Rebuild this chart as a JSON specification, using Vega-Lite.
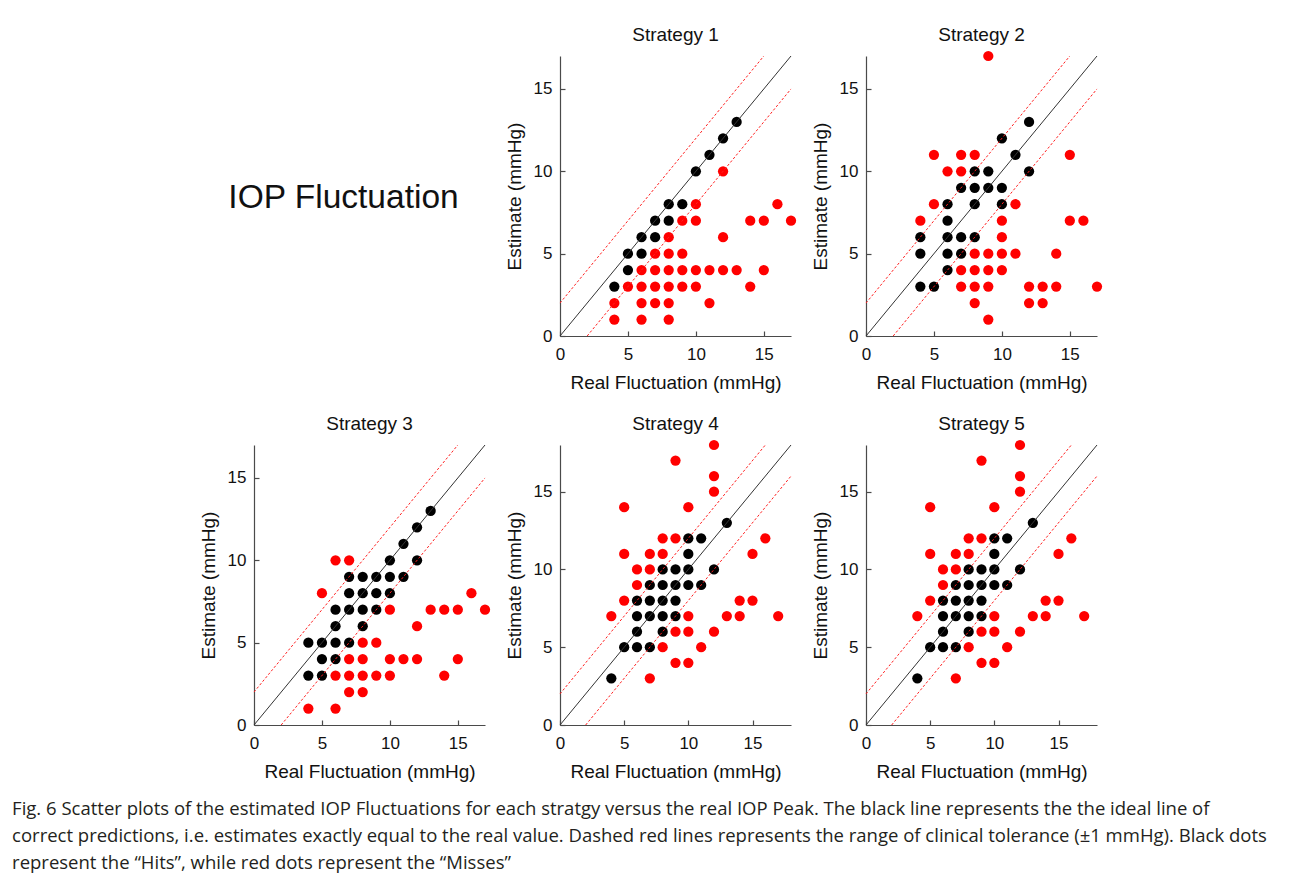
{
  "$schema": "https://vega.github.io/schema/vega-lite/v6.json",
  "background": "white",
  "padding": {"left": 12, "top": 25, "right": 5, "bottom": 5},
  "autosize": {"type": "pad"},
  "datasets": {
    "pts": [
      {"s":1,"real":4,"est":3,"result":"Hit"},{"s":1,"real":5,"est":4,"result":"Hit"},{"s":1,"real":5,"est":5,"result":"Hit"},{"s":1,"real":6,"est":5,"result":"Hit"},{"s":1,"real":6,"est":6,"result":"Hit"},{"s":1,"real":7,"est":6,"result":"Hit"},{"s":1,"real":7,"est":7,"result":"Hit"},{"s":1,"real":8,"est":7,"result":"Hit"},{"s":1,"real":8,"est":8,"result":"Hit"},{"s":1,"real":9,"est":8,"result":"Hit"},{"s":1,"real":10,"est":10,"result":"Hit"},{"s":1,"real":11,"est":11,"result":"Hit"},{"s":1,"real":12,"est":12,"result":"Hit"},{"s":1,"real":13,"est":13,"result":"Hit"},
      {"s":1,"real":12,"est":10,"result":"Miss"},{"s":1,"real":10,"est":8,"result":"Miss"},{"s":1,"real":16,"est":8,"result":"Miss"},{"s":1,"real":9,"est":7,"result":"Miss"},{"s":1,"real":10,"est":7,"result":"Miss"},{"s":1,"real":14,"est":7,"result":"Miss"},{"s":1,"real":15,"est":7,"result":"Miss"},{"s":1,"real":17,"est":7,"result":"Miss"},{"s":1,"real":8,"est":6,"result":"Miss"},{"s":1,"real":12,"est":6,"result":"Miss"},{"s":1,"real":7,"est":5,"result":"Miss"},{"s":1,"real":8,"est":5,"result":"Miss"},{"s":1,"real":9,"est":5,"result":"Miss"},{"s":1,"real":6,"est":4,"result":"Miss"},{"s":1,"real":7,"est":4,"result":"Miss"},{"s":1,"real":8,"est":4,"result":"Miss"},{"s":1,"real":9,"est":4,"result":"Miss"},{"s":1,"real":10,"est":4,"result":"Miss"},{"s":1,"real":11,"est":4,"result":"Miss"},{"s":1,"real":12,"est":4,"result":"Miss"},{"s":1,"real":13,"est":4,"result":"Miss"},{"s":1,"real":15,"est":4,"result":"Miss"},{"s":1,"real":5,"est":3,"result":"Miss"},{"s":1,"real":6,"est":3,"result":"Miss"},{"s":1,"real":7,"est":3,"result":"Miss"},{"s":1,"real":8,"est":3,"result":"Miss"},{"s":1,"real":9,"est":3,"result":"Miss"},{"s":1,"real":10,"est":3,"result":"Miss"},{"s":1,"real":14,"est":3,"result":"Miss"},{"s":1,"real":4,"est":2,"result":"Miss"},{"s":1,"real":6,"est":2,"result":"Miss"},{"s":1,"real":7,"est":2,"result":"Miss"},{"s":1,"real":8,"est":2,"result":"Miss"},{"s":1,"real":11,"est":2,"result":"Miss"},{"s":1,"real":4,"est":1,"result":"Miss"},{"s":1,"real":6,"est":1,"result":"Miss"},{"s":1,"real":8,"est":1,"result":"Miss"},

      {"s":2,"real":12,"est":13,"result":"Hit"},{"s":2,"real":10,"est":12,"result":"Hit"},{"s":2,"real":11,"est":11,"result":"Hit"},{"s":2,"real":8,"est":10,"result":"Hit"},{"s":2,"real":9,"est":10,"result":"Hit"},{"s":2,"real":12,"est":10,"result":"Hit"},{"s":2,"real":7,"est":9,"result":"Hit"},{"s":2,"real":8,"est":9,"result":"Hit"},{"s":2,"real":9,"est":9,"result":"Hit"},{"s":2,"real":10,"est":9,"result":"Hit"},{"s":2,"real":6,"est":8,"result":"Hit"},{"s":2,"real":8,"est":8,"result":"Hit"},{"s":2,"real":10,"est":8,"result":"Hit"},{"s":2,"real":6,"est":7,"result":"Hit"},{"s":2,"real":4,"est":6,"result":"Hit"},{"s":2,"real":6,"est":6,"result":"Hit"},{"s":2,"real":7,"est":6,"result":"Hit"},{"s":2,"real":8,"est":6,"result":"Hit"},{"s":2,"real":4,"est":5,"result":"Hit"},{"s":2,"real":6,"est":5,"result":"Hit"},{"s":2,"real":7,"est":5,"result":"Hit"},{"s":2,"real":6,"est":4,"result":"Hit"},{"s":2,"real":4,"est":3,"result":"Hit"},{"s":2,"real":5,"est":3,"result":"Hit"},
      {"s":2,"real":9,"est":17,"result":"Miss"},{"s":2,"real":5,"est":11,"result":"Miss"},{"s":2,"real":7,"est":11,"result":"Miss"},{"s":2,"real":8,"est":11,"result":"Miss"},{"s":2,"real":15,"est":11,"result":"Miss"},{"s":2,"real":6,"est":10,"result":"Miss"},{"s":2,"real":7,"est":10,"result":"Miss"},{"s":2,"real":5,"est":8,"result":"Miss"},{"s":2,"real":11,"est":8,"result":"Miss"},{"s":2,"real":4,"est":7,"result":"Miss"},{"s":2,"real":10,"est":7,"result":"Miss"},{"s":2,"real":15,"est":7,"result":"Miss"},{"s":2,"real":16,"est":7,"result":"Miss"},{"s":2,"real":10,"est":6,"result":"Miss"},{"s":2,"real":8,"est":5,"result":"Miss"},{"s":2,"real":9,"est":5,"result":"Miss"},{"s":2,"real":10,"est":5,"result":"Miss"},{"s":2,"real":11,"est":5,"result":"Miss"},{"s":2,"real":14,"est":5,"result":"Miss"},{"s":2,"real":7,"est":4,"result":"Miss"},{"s":2,"real":8,"est":4,"result":"Miss"},{"s":2,"real":9,"est":4,"result":"Miss"},{"s":2,"real":10,"est":4,"result":"Miss"},{"s":2,"real":7,"est":3,"result":"Miss"},{"s":2,"real":8,"est":3,"result":"Miss"},{"s":2,"real":9,"est":3,"result":"Miss"},{"s":2,"real":12,"est":3,"result":"Miss"},{"s":2,"real":13,"est":3,"result":"Miss"},{"s":2,"real":14,"est":3,"result":"Miss"},{"s":2,"real":17,"est":3,"result":"Miss"},{"s":2,"real":8,"est":2,"result":"Miss"},{"s":2,"real":12,"est":2,"result":"Miss"},{"s":2,"real":13,"est":2,"result":"Miss"},{"s":2,"real":9,"est":1,"result":"Miss"},

      {"s":3,"real":13,"est":13,"result":"Hit"},{"s":3,"real":12,"est":12,"result":"Hit"},{"s":3,"real":11,"est":11,"result":"Hit"},{"s":3,"real":10,"est":10,"result":"Hit"},{"s":3,"real":12,"est":10,"result":"Hit"},{"s":3,"real":7,"est":9,"result":"Hit"},{"s":3,"real":8,"est":9,"result":"Hit"},{"s":3,"real":9,"est":9,"result":"Hit"},{"s":3,"real":10,"est":9,"result":"Hit"},{"s":3,"real":11,"est":9,"result":"Hit"},{"s":3,"real":7,"est":8,"result":"Hit"},{"s":3,"real":8,"est":8,"result":"Hit"},{"s":3,"real":9,"est":8,"result":"Hit"},{"s":3,"real":10,"est":8,"result":"Hit"},{"s":3,"real":6,"est":7,"result":"Hit"},{"s":3,"real":7,"est":7,"result":"Hit"},{"s":3,"real":8,"est":7,"result":"Hit"},{"s":3,"real":9,"est":7,"result":"Hit"},{"s":3,"real":6,"est":6,"result":"Hit"},{"s":3,"real":8,"est":6,"result":"Hit"},{"s":3,"real":4,"est":5,"result":"Hit"},{"s":3,"real":5,"est":5,"result":"Hit"},{"s":3,"real":6,"est":5,"result":"Hit"},{"s":3,"real":7,"est":5,"result":"Hit"},{"s":3,"real":5,"est":4,"result":"Hit"},{"s":3,"real":6,"est":4,"result":"Hit"},{"s":3,"real":4,"est":3,"result":"Hit"},{"s":3,"real":5,"est":3,"result":"Hit"},
      {"s":3,"real":6,"est":10,"result":"Miss"},{"s":3,"real":7,"est":10,"result":"Miss"},{"s":3,"real":5,"est":8,"result":"Miss"},{"s":3,"real":16,"est":8,"result":"Miss"},{"s":3,"real":10,"est":7,"result":"Miss"},{"s":3,"real":13,"est":7,"result":"Miss"},{"s":3,"real":14,"est":7,"result":"Miss"},{"s":3,"real":15,"est":7,"result":"Miss"},{"s":3,"real":17,"est":7,"result":"Miss"},{"s":3,"real":12,"est":6,"result":"Miss"},{"s":3,"real":8,"est":5,"result":"Miss"},{"s":3,"real":9,"est":5,"result":"Miss"},{"s":3,"real":7,"est":4,"result":"Miss"},{"s":3,"real":8,"est":4,"result":"Miss"},{"s":3,"real":10,"est":4,"result":"Miss"},{"s":3,"real":11,"est":4,"result":"Miss"},{"s":3,"real":12,"est":4,"result":"Miss"},{"s":3,"real":15,"est":4,"result":"Miss"},{"s":3,"real":6,"est":3,"result":"Miss"},{"s":3,"real":7,"est":3,"result":"Miss"},{"s":3,"real":8,"est":3,"result":"Miss"},{"s":3,"real":9,"est":3,"result":"Miss"},{"s":3,"real":10,"est":3,"result":"Miss"},{"s":3,"real":14,"est":3,"result":"Miss"},{"s":3,"real":7,"est":2,"result":"Miss"},{"s":3,"real":8,"est":2,"result":"Miss"},{"s":3,"real":4,"est":1,"result":"Miss"},{"s":3,"real":6,"est":1,"result":"Miss"},

      {"s":4,"real":4,"est":3,"result":"Hit"},{"s":4,"real":13,"est":13,"result":"Hit"},{"s":4,"real":10,"est":12,"result":"Hit"},{"s":4,"real":11,"est":12,"result":"Hit"},{"s":4,"real":10,"est":11,"result":"Hit"},{"s":4,"real":8,"est":10,"result":"Hit"},{"s":4,"real":9,"est":10,"result":"Hit"},{"s":4,"real":10,"est":10,"result":"Hit"},{"s":4,"real":12,"est":10,"result":"Hit"},{"s":4,"real":7,"est":9,"result":"Hit"},{"s":4,"real":8,"est":9,"result":"Hit"},{"s":4,"real":9,"est":9,"result":"Hit"},{"s":4,"real":10,"est":9,"result":"Hit"},{"s":4,"real":11,"est":9,"result":"Hit"},{"s":4,"real":6,"est":8,"result":"Hit"},{"s":4,"real":7,"est":8,"result":"Hit"},{"s":4,"real":8,"est":8,"result":"Hit"},{"s":4,"real":9,"est":8,"result":"Hit"},{"s":4,"real":6,"est":7,"result":"Hit"},{"s":4,"real":7,"est":7,"result":"Hit"},{"s":4,"real":8,"est":7,"result":"Hit"},{"s":4,"real":9,"est":7,"result":"Hit"},{"s":4,"real":6,"est":6,"result":"Hit"},{"s":4,"real":8,"est":6,"result":"Hit"},{"s":4,"real":5,"est":5,"result":"Hit"},{"s":4,"real":6,"est":5,"result":"Hit"},{"s":4,"real":7,"est":5,"result":"Hit"},
      {"s":4,"real":12,"est":18,"result":"Miss"},{"s":4,"real":9,"est":17,"result":"Miss"},{"s":4,"real":12,"est":16,"result":"Miss"},{"s":4,"real":12,"est":15,"result":"Miss"},{"s":4,"real":5,"est":14,"result":"Miss"},{"s":4,"real":10,"est":14,"result":"Miss"},{"s":4,"real":8,"est":12,"result":"Miss"},{"s":4,"real":9,"est":12,"result":"Miss"},{"s":4,"real":16,"est":12,"result":"Miss"},{"s":4,"real":5,"est":11,"result":"Miss"},{"s":4,"real":7,"est":11,"result":"Miss"},{"s":4,"real":8,"est":11,"result":"Miss"},{"s":4,"real":15,"est":11,"result":"Miss"},{"s":4,"real":6,"est":10,"result":"Miss"},{"s":4,"real":7,"est":10,"result":"Miss"},{"s":4,"real":6,"est":9,"result":"Miss"},{"s":4,"real":5,"est":8,"result":"Miss"},{"s":4,"real":14,"est":8,"result":"Miss"},{"s":4,"real":15,"est":8,"result":"Miss"},{"s":4,"real":4,"est":7,"result":"Miss"},{"s":4,"real":10,"est":7,"result":"Miss"},{"s":4,"real":13,"est":7,"result":"Miss"},{"s":4,"real":14,"est":7,"result":"Miss"},{"s":4,"real":17,"est":7,"result":"Miss"},{"s":4,"real":9,"est":6,"result":"Miss"},{"s":4,"real":10,"est":6,"result":"Miss"},{"s":4,"real":12,"est":6,"result":"Miss"},{"s":4,"real":8,"est":5,"result":"Miss"},{"s":4,"real":11,"est":5,"result":"Miss"},{"s":4,"real":9,"est":4,"result":"Miss"},{"s":4,"real":10,"est":4,"result":"Miss"},{"s":4,"real":7,"est":3,"result":"Miss"},

      {"s":5,"real":4,"est":3,"result":"Hit"},{"s":5,"real":13,"est":13,"result":"Hit"},{"s":5,"real":10,"est":12,"result":"Hit"},{"s":5,"real":11,"est":12,"result":"Hit"},{"s":5,"real":10,"est":11,"result":"Hit"},{"s":5,"real":8,"est":10,"result":"Hit"},{"s":5,"real":9,"est":10,"result":"Hit"},{"s":5,"real":10,"est":10,"result":"Hit"},{"s":5,"real":12,"est":10,"result":"Hit"},{"s":5,"real":7,"est":9,"result":"Hit"},{"s":5,"real":8,"est":9,"result":"Hit"},{"s":5,"real":9,"est":9,"result":"Hit"},{"s":5,"real":10,"est":9,"result":"Hit"},{"s":5,"real":11,"est":9,"result":"Hit"},{"s":5,"real":6,"est":8,"result":"Hit"},{"s":5,"real":7,"est":8,"result":"Hit"},{"s":5,"real":8,"est":8,"result":"Hit"},{"s":5,"real":9,"est":8,"result":"Hit"},{"s":5,"real":6,"est":7,"result":"Hit"},{"s":5,"real":7,"est":7,"result":"Hit"},{"s":5,"real":8,"est":7,"result":"Hit"},{"s":5,"real":9,"est":7,"result":"Hit"},{"s":5,"real":6,"est":6,"result":"Hit"},{"s":5,"real":8,"est":6,"result":"Hit"},{"s":5,"real":5,"est":5,"result":"Hit"},{"s":5,"real":6,"est":5,"result":"Hit"},{"s":5,"real":7,"est":5,"result":"Hit"},
      {"s":5,"real":12,"est":18,"result":"Miss"},{"s":5,"real":9,"est":17,"result":"Miss"},{"s":5,"real":12,"est":16,"result":"Miss"},{"s":5,"real":12,"est":15,"result":"Miss"},{"s":5,"real":5,"est":14,"result":"Miss"},{"s":5,"real":10,"est":14,"result":"Miss"},{"s":5,"real":8,"est":12,"result":"Miss"},{"s":5,"real":9,"est":12,"result":"Miss"},{"s":5,"real":16,"est":12,"result":"Miss"},{"s":5,"real":5,"est":11,"result":"Miss"},{"s":5,"real":7,"est":11,"result":"Miss"},{"s":5,"real":8,"est":11,"result":"Miss"},{"s":5,"real":15,"est":11,"result":"Miss"},{"s":5,"real":6,"est":10,"result":"Miss"},{"s":5,"real":7,"est":10,"result":"Miss"},{"s":5,"real":6,"est":9,"result":"Miss"},{"s":5,"real":5,"est":8,"result":"Miss"},{"s":5,"real":14,"est":8,"result":"Miss"},{"s":5,"real":15,"est":8,"result":"Miss"},{"s":5,"real":4,"est":7,"result":"Miss"},{"s":5,"real":10,"est":7,"result":"Miss"},{"s":5,"real":13,"est":7,"result":"Miss"},{"s":5,"real":14,"est":7,"result":"Miss"},{"s":5,"real":17,"est":7,"result":"Miss"},{"s":5,"real":9,"est":6,"result":"Miss"},{"s":5,"real":10,"est":6,"result":"Miss"},{"s":5,"real":12,"est":6,"result":"Miss"},{"s":5,"real":8,"est":5,"result":"Miss"},{"s":5,"real":11,"est":5,"result":"Miss"},{"s":5,"real":9,"est":4,"result":"Miss"},{"s":5,"real":10,"est":4,"result":"Miss"},{"s":5,"real":7,"est":3,"result":"Miss"}
    ],
    "lines": [
      {"s":1,"kind":"ideal","real":0,"est":0,"real2":17,"est2":17},{"s":1,"kind":"tol","real":0,"est":2,"real2":15,"est2":17},{"s":1,"kind":"tol","real":2,"est":0,"real2":17,"est2":15},
      {"s":2,"kind":"ideal","real":0,"est":0,"real2":17,"est2":17},{"s":2,"kind":"tol","real":0,"est":2,"real2":15,"est2":17},{"s":2,"kind":"tol","real":2,"est":0,"real2":17,"est2":15},
      {"s":3,"kind":"ideal","real":0,"est":0,"real2":17,"est2":17},{"s":3,"kind":"tol","real":0,"est":2,"real2":15,"est2":17},{"s":3,"kind":"tol","real":2,"est":0,"real2":17,"est2":15},
      {"s":4,"kind":"ideal","real":0,"est":0,"real2":18,"est2":18},{"s":4,"kind":"tol","real":0,"est":2,"real2":16,"est2":18},{"s":4,"kind":"tol","real":2,"est":0,"real2":18,"est2":16},
      {"s":5,"kind":"ideal","real":0,"est":0,"real2":18,"est2":18},{"s":5,"kind":"tol","real":0,"est":2,"real2":16,"est2":18},{"s":5,"kind":"tol","real":2,"est":0,"real2":18,"est2":16}
    ],
    "heading": [{"label": "IOP Fluctuation"}]
  },
  "title": {
    "text": [
      "Fig. 6 Scatter plots of the estimated IOP Fluctuations for each stratgy versus the real IOP Peak. The black line represents the the ideal line of",
      "correct predictions, i.e. estimates exactly equal to the real value. Dashed red lines represents the range of clinical tolerance (±1 mmHg). Black dots",
      "represent the “Hits”, while red dots represent the “Misses”"
    ],
    "orient": "bottom",
    "anchor": "start",
    "frame": "bounds",
    "font": "Open Sans",
    "fontSize": 18.5,
    "fontWeight": "normal",
    "lineHeight": 27,
    "color": "#231f20",
    "offset": 19,
    "dx": -187
  },
  "columns": 3,
  "spacing": {"row": 109, "column": 75},
  "bounds": "flush",
  "align": "all",
  "concat": [
    {
      "width": 231, "height": 280,
      "data": {"name": "heading"},
      "mark": {"type": "text", "font": "Liberation Sans", "fontSize": 33.5, "color": "#111111", "align": "center", "baseline": "middle", "dx": -26, "dy": 2},
      "encoding": {"text": {"field": "label", "type": "nominal"}}
    },
    {
      "width": 231, "height": 280,
      "title": "Strategy 1",
      "encoding": {
        "x": {"field": "real", "type": "quantitative", "scale": {"domain": [0, 17], "nice": false}, "axis": {"title": "Real Fluctuation (mmHg)", "values": [0, 5, 10, 15]}},
        "y": {"field": "est", "type": "quantitative", "scale": {"domain": [0, 17], "nice": false}, "axis": {"title": "Estimate (mmHg)", "values": [0, 5, 10, 15]}}
      },
      "layer": [
        {"data": {"name": "pts"}, "transform": [{"filter": "datum.s == 1"}], "mark": {"type": "circle", "size": 105, "opacity": 1}, "encoding": {"color": {"field": "result", "type": "nominal", "scale": {"domain": ["Hit", "Miss"], "range": ["#000000", "#ff0000"]}, "legend": null}}},
        {"data": {"name": "lines"}, "transform": [{"filter": "datum.s == 1 && datum.kind == 'ideal'"}], "mark": {"type": "rule", "color": "#333333", "strokeWidth": 1}, "encoding": {"x2": {"field": "real2"}, "y2": {"field": "est2"}}},
        {"data": {"name": "lines"}, "transform": [{"filter": "datum.s == 1 && datum.kind == 'tol'"}], "mark": {"type": "rule", "color": "#ff2020", "strokeWidth": 1, "strokeDash": [2.5, 2]}, "encoding": {"x2": {"field": "real2"}, "y2": {"field": "est2"}}}
      ]
    },
    {
      "width": 231, "height": 280,
      "title": {"text": "Strategy 2", "offset": 6.2},
      "encoding": {
        "x": {"field": "real", "type": "quantitative", "scale": {"domain": [0, 17], "nice": false}, "axis": {"title": "Real Fluctuation (mmHg)", "values": [0, 5, 10, 15]}},
        "y": {"field": "est", "type": "quantitative", "scale": {"domain": [0, 17], "nice": false}, "axis": {"title": "Estimate (mmHg)", "values": [0, 5, 10, 15]}}
      },
      "layer": [
        {"data": {"name": "pts"}, "transform": [{"filter": "datum.s == 2"}], "mark": {"type": "circle", "size": 105, "opacity": 1}, "encoding": {"color": {"field": "result", "type": "nominal", "scale": {"domain": ["Hit", "Miss"], "range": ["#000000", "#ff0000"]}, "legend": null}}},
        {"data": {"name": "lines"}, "transform": [{"filter": "datum.s == 2 && datum.kind == 'ideal'"}], "mark": {"type": "rule", "color": "#333333", "strokeWidth": 1}, "encoding": {"x2": {"field": "real2"}, "y2": {"field": "est2"}}},
        {"data": {"name": "lines"}, "transform": [{"filter": "datum.s == 2 && datum.kind == 'tol'"}], "mark": {"type": "rule", "color": "#ff2020", "strokeWidth": 1, "strokeDash": [2.5, 2]}, "encoding": {"x2": {"field": "real2"}, "y2": {"field": "est2"}}}
      ]
    },
    {
      "width": 231, "height": 280,
      "title": "Strategy 3",
      "encoding": {
        "x": {"field": "real", "type": "quantitative", "scale": {"domain": [0, 17], "nice": false}, "axis": {"title": "Real Fluctuation (mmHg)", "values": [0, 5, 10, 15]}},
        "y": {"field": "est", "type": "quantitative", "scale": {"domain": [0, 17], "nice": false}, "axis": {"title": "Estimate (mmHg)", "values": [0, 5, 10, 15]}}
      },
      "layer": [
        {"data": {"name": "pts"}, "transform": [{"filter": "datum.s == 3"}], "mark": {"type": "circle", "size": 105, "opacity": 1}, "encoding": {"color": {"field": "result", "type": "nominal", "scale": {"domain": ["Hit", "Miss"], "range": ["#000000", "#ff0000"]}, "legend": null}}},
        {"data": {"name": "lines"}, "transform": [{"filter": "datum.s == 3 && datum.kind == 'ideal'"}], "mark": {"type": "rule", "color": "#333333", "strokeWidth": 1}, "encoding": {"x2": {"field": "real2"}, "y2": {"field": "est2"}}},
        {"data": {"name": "lines"}, "transform": [{"filter": "datum.s == 3 && datum.kind == 'tol'"}], "mark": {"type": "rule", "color": "#ff2020", "strokeWidth": 1, "strokeDash": [2.5, 2]}, "encoding": {"x2": {"field": "real2"}, "y2": {"field": "est2"}}}
      ]
    },
    {
      "width": 231, "height": 280,
      "title": {"text": "Strategy 4", "offset": 6.2},
      "encoding": {
        "x": {"field": "real", "type": "quantitative", "scale": {"domain": [0, 18], "nice": false}, "axis": {"title": "Real Fluctuation (mmHg)", "values": [0, 5, 10, 15]}},
        "y": {"field": "est", "type": "quantitative", "scale": {"domain": [0, 18], "nice": false}, "axis": {"title": "Estimate (mmHg)", "values": [0, 5, 10, 15]}}
      },
      "layer": [
        {"data": {"name": "pts"}, "transform": [{"filter": "datum.s == 4"}], "mark": {"type": "circle", "size": 105, "opacity": 1}, "encoding": {"color": {"field": "result", "type": "nominal", "scale": {"domain": ["Hit", "Miss"], "range": ["#000000", "#ff0000"]}, "legend": null}}},
        {"data": {"name": "lines"}, "transform": [{"filter": "datum.s == 4 && datum.kind == 'ideal'"}], "mark": {"type": "rule", "color": "#333333", "strokeWidth": 1}, "encoding": {"x2": {"field": "real2"}, "y2": {"field": "est2"}}},
        {"data": {"name": "lines"}, "transform": [{"filter": "datum.s == 4 && datum.kind == 'tol'"}], "mark": {"type": "rule", "color": "#ff2020", "strokeWidth": 1, "strokeDash": [2.5, 2]}, "encoding": {"x2": {"field": "real2"}, "y2": {"field": "est2"}}}
      ]
    },
    {
      "width": 231, "height": 280,
      "title": {"text": "Strategy 5", "offset": 6.2},
      "encoding": {
        "x": {"field": "real", "type": "quantitative", "scale": {"domain": [0, 18], "nice": false}, "axis": {"title": "Real Fluctuation (mmHg)", "values": [0, 5, 10, 15]}},
        "y": {"field": "est", "type": "quantitative", "scale": {"domain": [0, 18], "nice": false}, "axis": {"title": "Estimate (mmHg)", "values": [0, 5, 10, 15]}}
      },
      "layer": [
        {"data": {"name": "pts"}, "transform": [{"filter": "datum.s == 5"}], "mark": {"type": "circle", "size": 105, "opacity": 1}, "encoding": {"color": {"field": "result", "type": "nominal", "scale": {"domain": ["Hit", "Miss"], "range": ["#000000", "#ff0000"]}, "legend": null}}},
        {"data": {"name": "lines"}, "transform": [{"filter": "datum.s == 5 && datum.kind == 'ideal'"}], "mark": {"type": "rule", "color": "#333333", "strokeWidth": 1}, "encoding": {"x2": {"field": "real2"}, "y2": {"field": "est2"}}},
        {"data": {"name": "lines"}, "transform": [{"filter": "datum.s == 5 && datum.kind == 'tol'"}], "mark": {"type": "rule", "color": "#ff2020", "strokeWidth": 1, "strokeDash": [2.5, 2]}, "encoding": {"x2": {"field": "real2"}, "y2": {"field": "est2"}}}
      ]
    }
  ],
  "config": {
    "font": "Liberation Sans",
    "view": {"stroke": null},
    "title": {"font": "Liberation Sans", "fontSize": 19, "fontWeight": "normal", "color": "#111111", "offset": 11, "anchor": "middle", "frame": "group"},
    "axis": {
      "domainColor": "#4a4a4a", "domainWidth": 1.2, "tickColor": "#4a4a4a", "tickWidth": 1.2, "tickSize": -5,
      "grid": false,
      "labelFont": "Liberation Sans", "labelFontSize": 17, "labelColor": "#111111", "labelFlush": false, "labelOverlap": false,
      "titleFont": "Liberation Sans", "titleFontSize": 19, "titleFontWeight": "normal", "titleColor": "#111111"
    },
    "axisX": {"labelPadding": 15, "titlePadding": 11},
    "axisY": {"labelPadding": 13, "titlePadding": 9}
  }
}
